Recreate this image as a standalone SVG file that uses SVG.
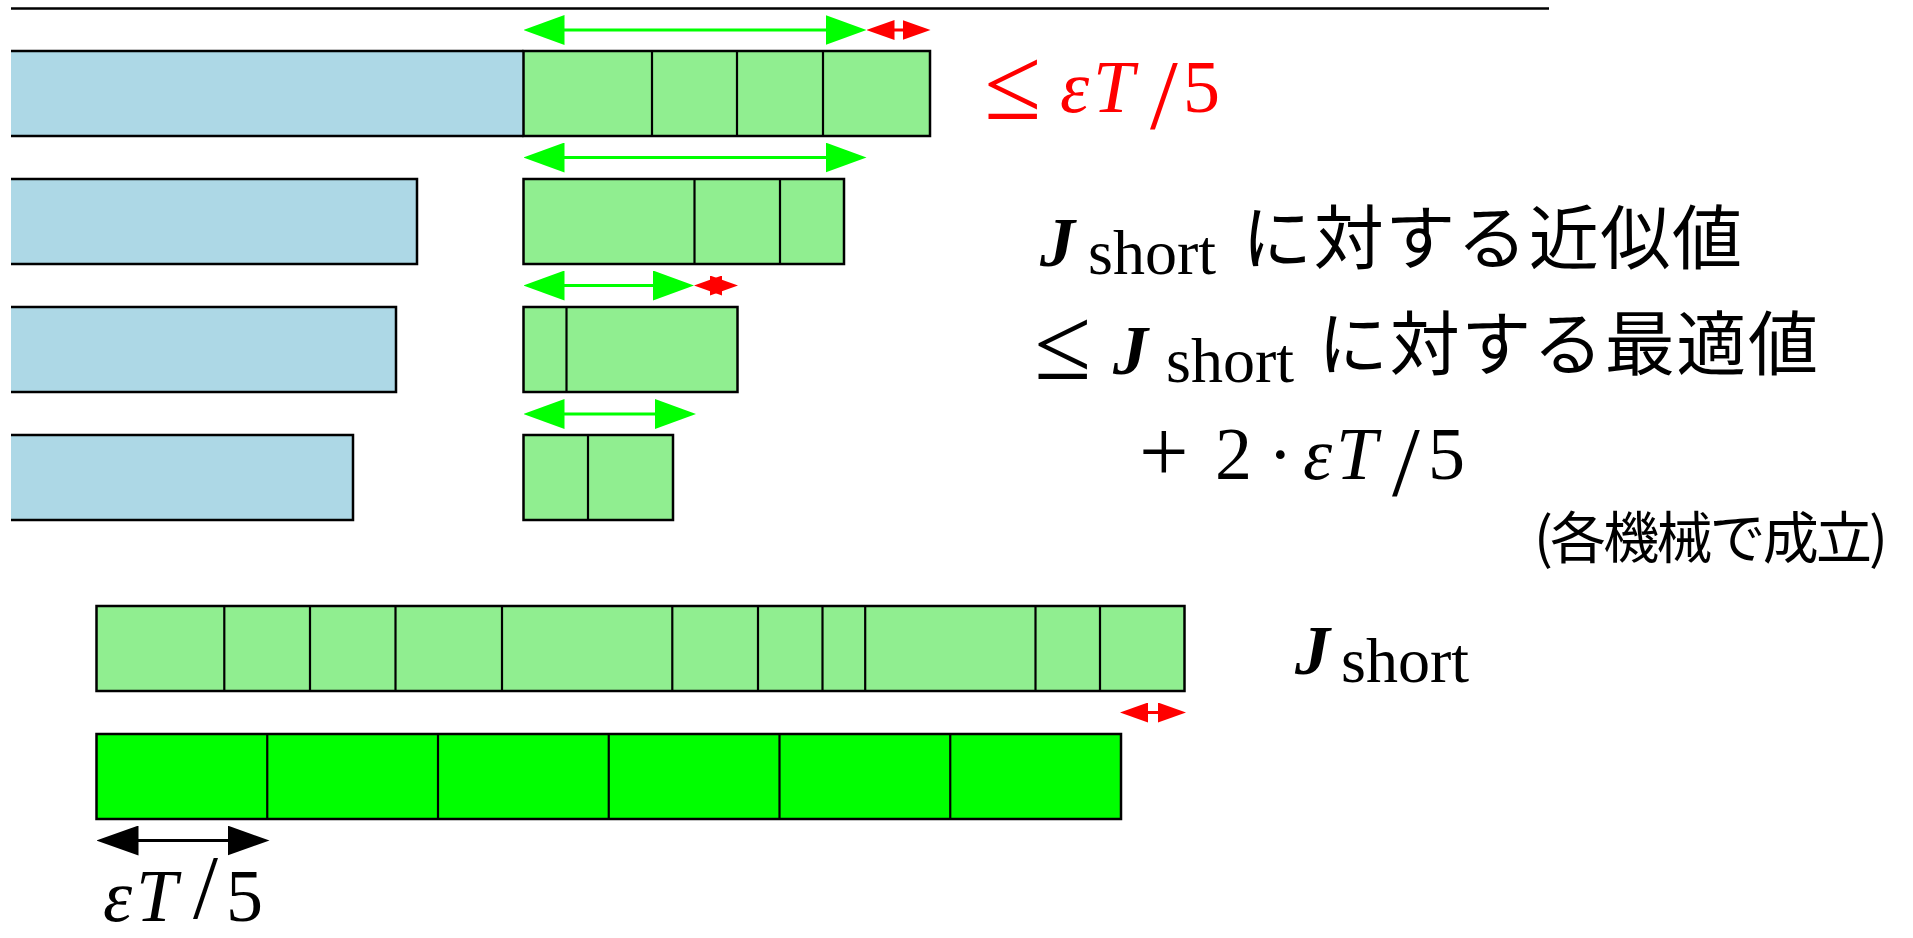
<svg xmlns="http://www.w3.org/2000/svg" width="1913" height="938" viewBox="0 0 1913 938">
<defs>
<style>
.blue{fill:#ADD8E6}
.lg{fill:#90EE90;stroke:#000;stroke-width:2.5}
.lime{fill:#00FF00;stroke:#000;stroke-width:2.5}
.edge{fill:none;stroke:#000;stroke-width:2.5}
.div{fill:none;stroke:#000;stroke-width:2.2}
.ag{fill:none;stroke:#00FF00;stroke-width:3;marker-start:url(#hg);marker-end:url(#hg)}
.ar{fill:none;stroke:#FF0000;stroke-width:3;marker-start:url(#hr);marker-end:url(#hr)}
.ak{fill:none;stroke:#000;stroke-width:3.2;marker-start:url(#hk);marker-end:url(#hk)}
.math{font-family:"Liberation Serif","Times New Roman",serif}
.it{font-style:italic}
.cal{font-style:italic;font-weight:bold}
.jp{font-family:"Noto Sans CJK JP","Noto Sans CJK SC",sans-serif}
</style>
<marker id="hg" viewBox="0 0 41 30" refX="21" refY="15" markerWidth="41" markerHeight="30" markerUnits="userSpaceOnUse" orient="auto-start-reverse"><path d="M0,0 L41,15 L0,30 z" fill="#00FF00"/></marker>
<marker id="hr" viewBox="0 0 28 20" refX="14" refY="10" markerWidth="28" markerHeight="20" markerUnits="userSpaceOnUse" orient="auto-start-reverse"><path d="M0,0 L28,10 L0,20 z" fill="#FF0000"/></marker>
<marker id="hk" viewBox="0 0 42 30" refX="22" refY="15" markerWidth="42" markerHeight="30" markerUnits="userSpaceOnUse" orient="auto-start-reverse"><path d="M0,0 L42,15 L0,30 z" fill="#000"/></marker>
</defs>
<rect width="1913" height="938" fill="#fff"/>
<line id="topline" x1="11" y1="8.5" x2="1549" y2="8.5" stroke="#000" stroke-width="2.5"/>

<g id="row1">
<rect class="blue" x="11" y="51" width="512.5" height="85"/>
<path class="edge" d="M11,51 H523.5 M11,136 H523.5"/>
<rect class="lg" x="523.5" y="51" width="406.5" height="85"/>
<path class="div" d="M652,51V136 M737,51V136 M823,51V136"/>
</g>
<g id="row2">
<rect class="blue" x="11" y="179" width="406" height="85"/>
<path class="edge" d="M11,179 H417 V264 H11"/>
<rect class="lg" x="523.5" y="179" width="320.5" height="85"/>
<path class="div" d="M694.5,179V264 M780,179V264"/>
</g>
<g id="row3">
<rect class="blue" x="11" y="307" width="385" height="85"/>
<path class="edge" d="M11,307 H396 V392 H11"/>
<rect class="lg" x="523.5" y="307" width="214" height="85"/>
<path class="div" d="M566.5,307V392"/>
</g>
<g id="row4">
<rect class="blue" x="11" y="435" width="342" height="85"/>
<path class="edge" d="M11,435 H353 V520 H11"/>
<rect class="lg" x="523.5" y="435" width="149.5" height="85"/>
<path class="div" d="M588,435V520"/>
</g>
<g id="jshort-bar">
<rect class="lg" x="96.5" y="606" width="1088" height="85"/>
<path class="div" d="M224.3,606V691 M310,606V691 M395.5,606V691 M502,606V691 M672.3,606V691 M758,606V691 M822.5,606V691 M865.2,606V691 M1035.5,606V691 M1100,606V691"/>
</g>
<g id="opt-bar">
<rect class="lime" x="96.5" y="734" width="1024.5" height="85"/>
<path class="div" d="M267.25,734V819 M438,734V819 M608.75,734V819 M779.5,734V819 M950.25,734V819"/>
</g>

<g id="connectors">
<path class="ag" d="M543.5,30 H846.5"/>
<path class="ar" d="M880.5,30 H916.5"/>
<path class="ag" d="M543.5,157.5 H846.5"/>
<path class="ag" d="M543.5,285.5 H674"/>
<path class="ar" d="M708,285.5 H724"/>
<path class="ag" d="M543.5,414 H676"/>
<path class="ar" d="M1134,712.5 H1172"/>
<path class="ak" d="M116.5,840.5 H249.5"/>
</g>

<g id="label-red" class="math" fill="#FF0000">
<text x="984" y="119" font-size="104">≤</text>
<text y="112" font-size="74"><tspan class="it" x="1060">ε</tspan><tspan class="it" x="1093">T</tspan><tspan x="1150" y="128" font-size="100">/</tspan><tspan x="1183" y="112">5</tspan></text>
</g>

<g id="label-approx">
<text class="math cal" x="1040" y="266" font-size="70">J</text>
<text class="math" x="1088" y="274" font-size="64">short</text>
<text class="jp" x="1242" y="264" font-size="70" textLength="500" lengthAdjust="spacing">に対する近似値</text>
</g>
<g id="label-opt">
<text class="math" x="1034" y="379" font-size="104">≤</text>
<text class="math cal" x="1113" y="374" font-size="70">J</text>
<text class="math" x="1166" y="382" font-size="64">short</text>
<text class="jp" x="1318" y="370" font-size="70" textLength="500" lengthAdjust="spacing">に対する最適値</text>
</g>
<g id="label-plus" class="math">
<text x="1139" y="481" font-size="88">+</text>
<text y="479" font-size="74"><tspan x="1215">2</tspan><tspan x="1268">·</tspan><tspan class="it" x="1303">ε</tspan><tspan class="it" x="1336">T</tspan><tspan x="1392" y="495" font-size="100">/</tspan><tspan x="1428" y="479">5</tspan></text>
</g>
<g id="label-note">
<text class="jp" x="1534" y="558" font-size="56" textLength="354" lengthAdjust="spacing">(各機械で成立)</text>
</g>
<g id="label-jshort">
<text class="math cal" x="1295" y="674" font-size="70">J</text>
<text class="math" x="1341" y="682" font-size="64">short</text>
</g>
<g id="label-unit" class="math">
<text y="921" font-size="74"><tspan class="it" x="103">ε</tspan><tspan class="it" x="136">T</tspan><tspan x="193" y="918" font-size="90">/</tspan><tspan x="226" y="921">5</tspan></text>
</g>
</svg>
